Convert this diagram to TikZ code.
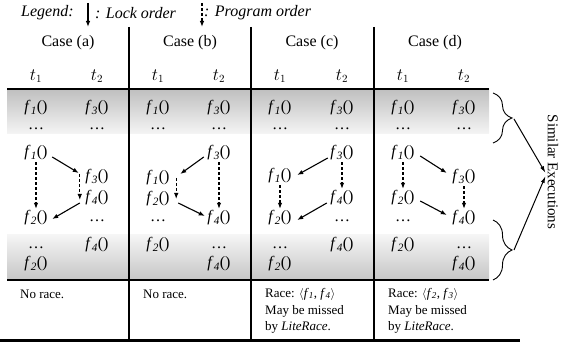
\documentclass[tikz,border=0pt]{standalone}
\usepackage{fontspec}
\setmainfont{Liberation Serif}
\usetikzlibrary{arrows.meta,decorations.pathreplacing,calc}
\newcommand{\fnc}[1]{\textit{f}\textsubscript{\textit{#1}}()}
\begin{document}
\begin{tikzpicture}[x=1pt,y=-1pt,
  lbl/.style={inner sep=1pt, font=\fontsize{16}{18}\selectfont},
  fx/.style={inner sep=1.5pt, text height=11pt, text depth=4pt, font=\fontsize{16}{18}\selectfont},
  note/.style={anchor=west, inner sep=0pt, font=\fontsize{13}{15}\selectfont},
  lock/.style={-{Latex[length=6pt,width=4.5pt]}, line width=1.1pt},
  prog/.style={-{Latex[length=6pt,width=4.5pt]}, line width=1.1pt, dash pattern=on 3pt off 2pt},
  grid/.style={line width=1.2pt},
  rule/.style={line width=2pt},
  brc/.style={decorate, decoration={brace, amplitude=19pt, aspect=0.5}, line width=0.9pt},
  simarrow/.style={-{Latex[length=7pt,width=4pt]}, line width=1pt},
]
\useasboundingbox (0,0) rectangle (566,344);
% gray bands
\shade[top color=gray!50, bottom color=gray!8] (7,89) rectangle (489,134);
\shade[top color=gray!8, bottom color=gray!45] (7,235) rectangle (489,280);
% rules
\draw[rule] (7,89) -- (489,89);
\draw[rule] (7,280) -- (489,280);
\draw[line width=3pt] (0,341) -- (520,341);
\foreach \x in {129,251,374} \draw[grid] (\x,27) -- (\x,341);
% legend
\node[lbl, anchor=west, font=\fontsize{16}{18}\selectfont\itshape] (leg) at (20,13) {Legend:};
\coordinate (l1a) at (88,3); \coordinate (l1b) at (88,27);
\draw[lock] (l1a) -- (l1b);
\node[lbl, anchor=west, font=\fontsize{16}{18}\selectfont\itshape] (lego) at (94,13) {: Lock order};
\coordinate (l2a) at (202,3); \coordinate (l2b) at (202,27);
\draw[prog] (l2a) -- (l2b);
\node[lbl, anchor=west, font=\fontsize{16}{18}\selectfont\itshape] (legp) at (203,13) {: Program order};
% case headers
\node[lbl] (ca) at (68,43) {Case (a)};
\node[lbl] (cb) at (190,43) {Case (b)};
\node[lbl] (cc) at (312,43) {Case (c)};
\node[lbl] (cd) at (435,43) {Case (d)};
% thread labels
\foreach \n/\p/\q in {a/36/97, b/158/219, c/280/342, d/403/464}{
  \node[lbl] (t1\n) at (\p,76) {$t_1$};
  \node[lbl] (t2\n) at (\q,76) {$t_2$};
  \node[fx] (g1\n) at (\p,108) {\fnc{1}};
  \node[fx] (g3\n) at (\q,108) {\fnc{3}};
  \node[fx] (gd1\n) at (\p,126) {…};
  \node[fx] (gd2\n) at (\q,126) {…};
}
% bottom band
\node[fx] (hda) at (36,245) {…};
\node[fx] (h4a) at (97,245) {\fnc{4}};
\node[fx] (h2a) at (36,264) {\fnc{2}};
\node[fx] (h2b) at (158,245) {\fnc{2}};
\node[fx] (hdb) at (219,245) {…};
\node[fx] (h4b) at (219,264) {\fnc{4}};
\node[fx] (hdc) at (280,245) {…};
\node[fx] (h4c) at (342,245) {\fnc{4}};
\node[fx] (h2c) at (280,264) {\fnc{2}};
\node[fx] (h2d) at (403,245) {\fnc{2}};
\node[fx] (hdd) at (464,245) {…};
\node[fx] (h4d) at (464,264) {\fnc{4}};
% case (a)
\node[fx] (a1) at (36,153) {\fnc{1}};
\node[fx] (a3) at (97,177) {\fnc{3}};
\node[fx] (a4) at (97,198) {\fnc{4}};
\node[fx] (a2) at (36,218) {\fnc{2}};
\node[fx] (ad) at (97,218) {…};
\draw[lock] ($(a1.east)+(3,4)$) -- ($(a3.west)+(-5,-4)$);
\draw[prog] (a1.south) -- (a2.north);
\draw[prog] ($(a3.west)+(-4,-3)$) -- ($(a4.west)+(-4,2)$);
\draw[lock] ($(a4.west)+(-4,5)$) -- ($(a2.east)+(3,1)$);
% case (b)
\node[fx] (b3) at (219,153) {\fnc{3}};
\node[fx] (b1) at (158,178) {\fnc{1}};
\node[fx] (b2) at (158,199) {\fnc{2}};
\node[fx] (b4) at (219,218) {\fnc{4}};
\node[fx] (bd) at (158,218) {…};
\draw[lock] ($(b3.west)+(-2,4)$) -- ($(b1.east)+(9,-4)$);
\draw[prog] (b3.south) -- (b4.north);
\draw[prog] ($(b1.east)+(5,0)$) -- ($(b2.east)+(5,0)$);
\draw[lock] ($(b2.east)+(7,4)$) -- ($(b4.west)+(-1,-2)$);
% case (c)
\node[fx] (c3) at (342,153) {\fnc{3}};
\node[fx] (c1) at (280,176) {\fnc{1}};
\node[fx] (c4) at (342,198) {\fnc{4}};
\node[fx] (c2) at (280,218) {\fnc{2}};
\node[fx] (cdt) at (342,218) {…};
\draw[lock] ($(c3.west)+(-1,5)$) -- ($(c1.east)+(4,-1)$);
\draw[prog] (c1.south) -- (c2.north);
\draw[prog] (c3.south) -- (c4.north);
\draw[lock] ($(c4.west)+(-2,5)$) -- ($(c2.east)+(4,2)$);
% case (d)
\node[fx] (d1) at (403,153) {\fnc{1}};
\node[fx] (d3) at (464,177) {\fnc{3}};
\node[fx] (d2) at (403,198) {\fnc{2}};
\node[fx] (d4) at (464,218) {\fnc{4}};
\node[fx] (dd) at (403,218) {…};
\draw[lock] ($(d1.east)+(4,3)$) -- ($(d3.west)+(-4,-4)$);
\draw[prog] (d1.south) -- (d2.north);
\draw[prog] (d3.south) -- (d4.north);
\draw[lock] ($(d2.east)+(4,3)$) -- ($(d4.west)+(-4,-3)$);
% notes
\node[note] (na) at (20,294) {No race.};
\node[note] (nb) at (143,294) {No race.};
\node[note] (nc1) at (265,294) {Race: $\langle$\textit{f}\textsubscript{\textit{1}}, \textit{f}\textsubscript{\textit{4}}$\rangle$};
\node[note] (nc2) at (265,311) {May be missed};
\node[note] (nc3) at (265,327) {by \textit{LiteRace}.};
\node[note] (nd1) at (388,294) {Race: $\langle$\textit{f}\textsubscript{\textit{2}}, \textit{f}\textsubscript{\textit{3}}$\rangle$};
\node[note] (nd2) at (388,311) {May be missed};
\node[note] (nd3) at (388,327) {by \textit{LiteRace}.};
% braces and similar executions
\draw[brc] (493,93) -- (493,143);
\draw[brc] (493,220) -- (493,280);
\coordinate (br1) at (514,119);
\coordinate (br2) at (514,250);
\node[rotate=-90, inner sep=2pt, font=\fontsize{15}{17}\selectfont] (sim) at (553,172) {Similar Executions};
\draw[simarrow] (br1) -- ($(sim.south)+(0,1)$);
\draw[simarrow] (br2) -- ($(sim.south)+(0,4)$);
\end{tikzpicture}
\end{document}
